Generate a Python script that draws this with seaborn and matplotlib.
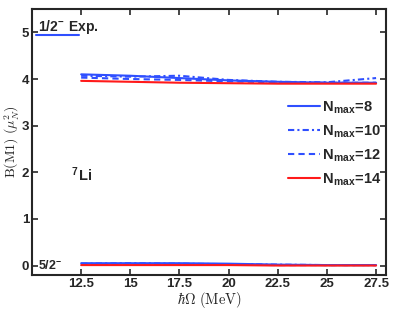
import numpy as np
import pandas as pd
import seaborn as sns
import matplotlib.pyplot as plt

hw = [12.5, 15, 17.5, 20, 22.5, 25, 27.5]

# 3/2- -> 1/2- transition
m1_n8 = [4.10, 4.07, 4.02, 3.97, 3.94, 3.92, 3.92]
m1_n10 = [4.07, 4.05, 4.07, 3.98, 3.94, 3.93, 4.02]
m1_n12 = [4.03, 4.00, 3.98, 3.95, 3.93, 3.92, 3.92]
m1_n14 = [3.96, 3.94, 3.92, 3.91, 3.90, 3.90, 3.90]

# 3/2- -> 5/2- transition
m1b_n8 = [0.05, 0.05, 0.05, 0.04, 0.02, 0.01, 0.01]
m1b_n10 = [0.04, 0.05, 0.04, 0.03, 0.02, 0.01, 0.01]
m1b_n12 = [0.03, 0.03, 0.03, 0.02, 0.01, 0.01, 0.01]
m1b_n14 = [0.01, 0.01, 0.01, 0.01, 0.00, 0.00, 0.00]

exp_hw = [10.2, 12.4]
exp_val = [4.95, 4.95]

nmax = ['8', '10', '12', '14']
blue = '#2f4fff'
red = '#ff1a1a'
colors = [blue, blue, blue, red]
dash_list = [(None, None), (3, 1.5, 1, 1.5), (3, 2), (None, None)]

sns.set_style("ticks")
plt.rcParams['font.family'] = ['Liberation Sans', 'DejaVu Sans']
plt.rcParams['mathtext.fontset'] = 'cm'
plt.rcParams['xtick.direction'] = 'in'
plt.rcParams['ytick.direction'] = 'in'

fig = plt.figure(figsize=(3.95, 3.12), dpi=100)
ax = fig.add_axes([0.081, 0.119, 0.896, 0.852])

upper = [m1_n8, m1_n10, m1_n12, m1_n14]
lower = [m1b_n8, m1b_n10, m1b_n12, m1b_n14]
for n, up, lo, c, d in zip(nmax, upper, lower, colors, dash_list):
    df = pd.DataFrame({'hw': hw, 'up': up, 'lo': lo})
    l1 = sns.lineplot(data=df, x='hw', y='up', ax=ax, color=c, lw=1.5,
                      label=r'N$_\mathregular{max}$=' + n).lines[-1]
    l2 = sns.lineplot(data=df, x='hw', y='lo', ax=ax, color=c, lw=1.5).lines[-1]
    if d[0] is not None:
        l1.set_dashes(d)
        l2.set_dashes(d)

sns.lineplot(x=exp_hw, y=exp_val, ax=ax, color=blue, lw=1.5)

ax.text(10.3, 5.03, r'1/2$^\mathregular{-}$ Exp.', fontsize=10, fontweight='bold')
ax.text(10.3, 0.0, r'5/2$^\mathregular{-}$', fontsize=9, fontweight='bold', va='center')
ax.text(12.0, 1.94, r'$^\mathregular{7}$Li', fontsize=10.5, fontweight='bold', va='center')

ax.set_xlim(10, 28)
ax.set_ylim(-0.2, 5.5)
ax.set_xticks([12.5, 15, 17.5, 20, 22.5, 25, 27.5])
ax.set_xticklabels(['12.5', '15', '17.5', '20', '22.5', '25', '27.5'])
ax.set_yticks([0, 1, 2, 3, 4, 5])
ax.tick_params(top=True, right=True, labelsize=9.5, width=1.2, length=4, pad=2)
for lab in ax.get_xticklabels() + ax.get_yticklabels():
    lab.set_fontweight('bold')
for s in ax.spines.values():
    s.set_linewidth(1.5)

ax.set_xlabel(r'$\hbar\Omega\ \mathrm{(MeV)}$', fontsize=10.5, labelpad=0)
ax.set_ylabel(r'$\mathrm{B(M1)}\ (\mu_N^2)$', fontsize=10)
ax.yaxis.set_label_coords(-0.03, 0.5)

leg = ax.legend(loc='upper right', bbox_to_anchor=(1.012, 0.693), frameon=False,
                fontsize=10.5, handlelength=2.2, labelspacing=0.52, handletextpad=0.15,
                borderaxespad=0.2)
for t in leg.get_texts():
    t.set_fontweight('bold')

fig.savefig('out.png', dpi=100)
